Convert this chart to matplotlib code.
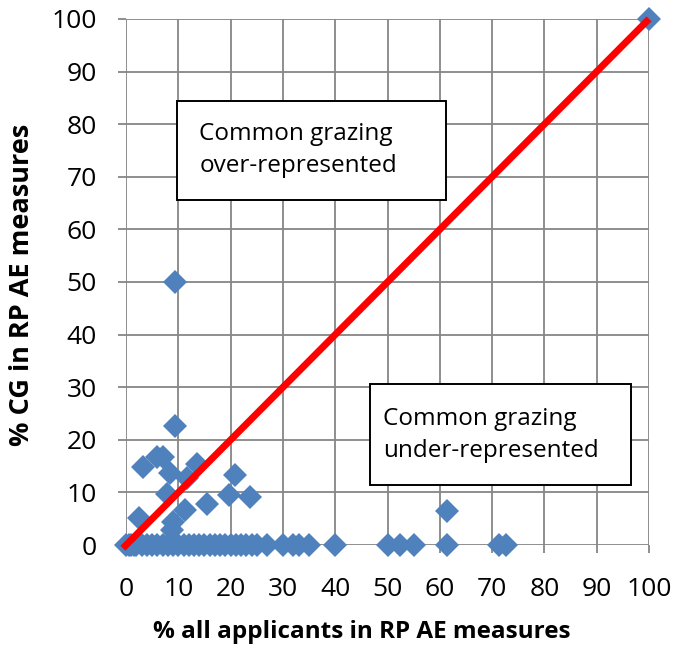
import matplotlib.pyplot as plt
from matplotlib.patches import Rectangle

plt.rcParams['font.family'] = ['Open Sans', 'DejaVu Sans']

# % all applicants vs % common grazing in RP AE measures
x_nonzero = [9.4, 3.2, 5.9, 7.1, 13.5, 8.4, 11.6, 20.8, 7.8, 19.6, 23.7,
             15.4, 11.3, 2.5, 9.0, 8.7, 9.4, 61.3, 100.0]
y_nonzero = [22.6, 14.9, 16.8, 16.8, 15.5, 13.7, 12.7, 13.3, 9.8, 9.5, 9.2,
             7.9, 6.7, 5.1, 4.4, 2.8, 50.0, 6.5, 100.0]
x_zero = [0, 0.5, 1, 1.5, 2, 3, 4, 5, 6, 7, 8, 9, 10, 11, 12, 13, 14, 15,
          16, 17, 18, 19, 20, 21, 22, 23, 24, 25, 27, 30, 32, 33, 35, 40,
          50, 52.4, 55, 61.4, 71.3, 72.7]
y_zero = [0] * len(x_zero)

ticks = list(range(0, 101, 10))
blue = "#4F81BD"
grid_grey = "#868686"

fig = plt.figure(figsize=(6.74, 6.52), dpi=100)
ax = fig.add_axes([0.187, 0.164, 0.776, 0.807])

ax.plot(x_zero + x_nonzero, y_zero + y_nonzero, linestyle="none", marker="D",
        markersize=12, color=blue, markeredgewidth=0, zorder=3, clip_on=False)
# equality line, runs a touch past the origin like the original
ax.plot([-0.6, 100], [-0.6, 100], color="#FF0000", linewidth=5, zorder=4,
        solid_capstyle="butt", clip_on=False)

ax.set_xlim(0, 100)
ax.set_ylim(0, 100)
ax.set_xticks(ticks)
ax.set_yticks(ticks)
ax.grid(True, color=grid_grey, linewidth=1.3)
ax.set_axisbelow(True)
for s in ax.spines.values():
    s.set_visible(False)
ax.tick_params(axis="both", length=6, width=1.3, color=grid_grey,
               labelsize=19, pad=15)
ax.tick_params(axis="x", pad=17)

ax.set_xlabel("% all applicants in RP AE measures", fontsize=17.5,
              fontweight="bold", va="center")
ax.set_ylabel("% CG in RP AE measures", fontsize=19.5, fontweight="bold",
              va="center")
ax.xaxis.set_label_coords(0.45, -0.165)
ax.yaxis.set_label_coords(-0.199, 0.494)

# annotation boxes
for (bx, by, bw, bh) in [(9.75, 65.6, 51.45, 18.8), (46.7, 11.4, 49.9, 19.2)]:
    ax.add_patch(Rectangle((bx, by), bw, bh, facecolor="white",
                           edgecolor="black", linewidth=1.4, zorder=5))
ax.text(14.0, 75.0, "Common grazing\nover-represented", fontsize=17.5,
        linespacing=1.45, va="center", ha="left", zorder=6)
ax.text(49.1, 21.0, "Common grazing\nunder-represented", fontsize=17.5,
        linespacing=1.45, va="center", ha="left", zorder=6)

fig.savefig("out.png", dpi=100)
